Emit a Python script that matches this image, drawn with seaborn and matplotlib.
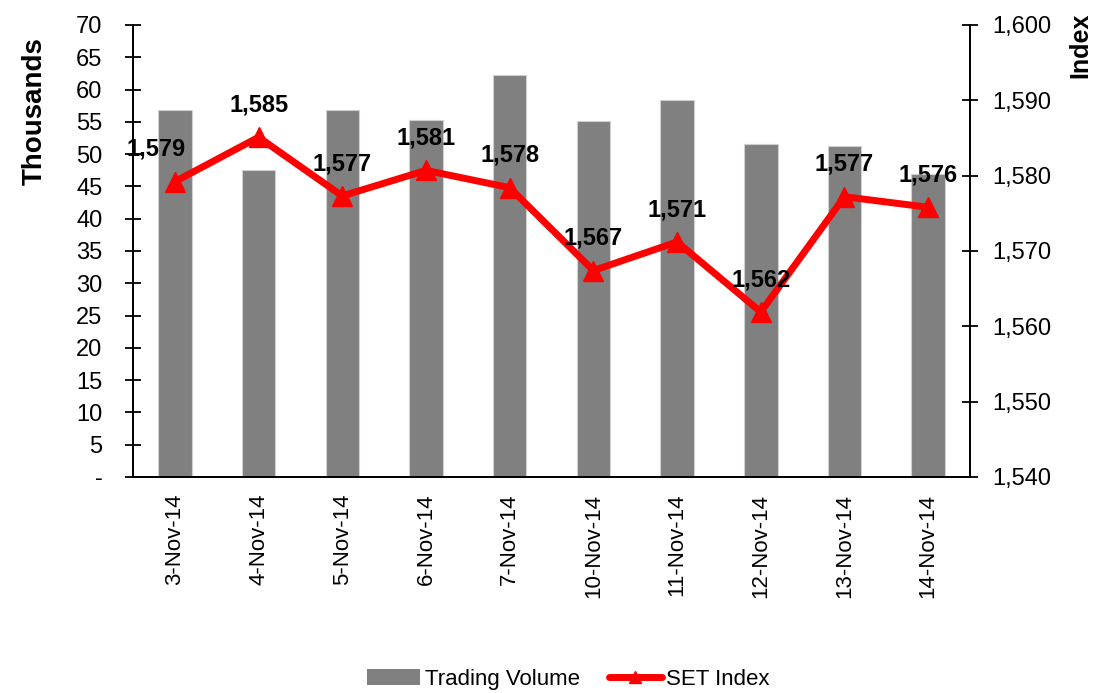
import numpy as np
import pandas as pd
from matplotlib import pyplot as plt
from matplotlib.patches import Patch
from matplotlib.lines import Line2D
import seaborn as sns

dates = ['3-Nov-14', '4-Nov-14', '5-Nov-14', '6-Nov-14', '7-Nov-14',
         '10-Nov-14', '11-Nov-14', '12-Nov-14', '13-Nov-14', '14-Nov-14']
volume = [56.9, 47.5, 56.9, 55.3, 62.2, 55.1, 58.4, 51.5, 51.3, 46.9]
set_index = [1579.2, 1585.1, 1577.3, 1580.7, 1578.4, 1567.4, 1571.2, 1561.9, 1577.2, 1575.8]

df = pd.DataFrame({'date': dates, 'volume': volume, 'index': set_index})

sns.set_style('white')
plt.rcParams['font.family'] = ['Liberation Sans', 'DejaVu Sans']
plt.rcParams['text.color'] = 'black'
plt.rcParams['xtick.color'] = 'black'
plt.rcParams['ytick.color'] = 'black'

fig = plt.figure(figsize=(10.93, 6.93), dpi=100)
ax = fig.add_axes([0.1217, 0.3117, 0.7658, 0.6523])

# Gráfico de barras - volume
sns.barplot(x='date', y='volume', data=df, color='#808080', width=0.4,
            saturation=1, edgecolor='#d0d0d0', linewidth=0.8, ax=ax)
ax.set_ylim(0, 70)
ax.set_yticks(range(0, 71, 5))
ax.set_yticklabels(['-'] + [str(v) for v in range(5, 71, 5)], fontsize=17)
ax.set_xlim(-0.5, len(dates) - 0.5)
ax.set_xticks(range(len(dates)))
ax.set_xticklabels(dates, rotation=90, fontsize=16)
ax.set_xticks(np.arange(-0.5, len(dates), 1), minor=True)
ax.tick_params(axis='x', which='major', length=0, pad=12)
ax.tick_params(axis='x', which='minor', length=8, width=1.3, direction='out', color='black')
ax.tick_params(axis='y', length=12, width=1.3, direction='inout', color='black', pad=16)
ax.set_xlabel('')
ax.set_ylabel('')

# Linha - SET Index
ax2 = ax.twinx()
ax2.plot(np.arange(len(dates)), df['index'], color='red', linewidth=5,
         marker='^', markersize=15, solid_joinstyle='miter')
ax2.set_ylim(1540, 1600)
ax2.set_yticks(range(1540, 1601, 10))
ax2.set_yticklabels([f'{v:,}' for v in range(1540, 1601, 10)], fontsize=17)
ax2.tick_params(axis='y', length=12, width=1.3, direction='inout', color='black', pad=10)
ax2.set_xlim(-0.5, len(dates) - 0.5)

for i, v in enumerate(set_index):
    dx = -0.22 if i == 0 else 0
    ax2.annotate(f'{round(v):,}', (i + dx, v), xytext=(0, 15), textcoords='offset points',
                 ha='center', va='bottom', fontsize=17, fontweight='bold')

for a in (ax, ax2):
    a.spines['top'].set_visible(False)
    for s in ['left', 'bottom', 'right']:
        a.spines[s].set_color('black')
        a.spines[s].set_linewidth(1.3)

fig.text(0.032, 0.84, 'Thousands', rotation=90, ha='center', va='center',
         fontsize=20, fontweight='bold')
fig.text(0.988, 0.982, 'Index', rotation=90, ha='center', va='top',
         fontsize=18, fontweight='bold')

handles = [Patch(facecolor='#808080', edgecolor='none'),
           Line2D([0], [0], color='red', linewidth=5, marker='^', markersize=9)]
fig.legend(handles, ['Trading Volume', 'SET Index'], loc='center',
           bbox_to_anchor=(0.52, 0.02), ncol=2, frameon=False, fontsize=16,
           handlelength=2.4, columnspacing=1.3, handletextpad=0.2)

plt.savefig('out.png', dpi=100)
